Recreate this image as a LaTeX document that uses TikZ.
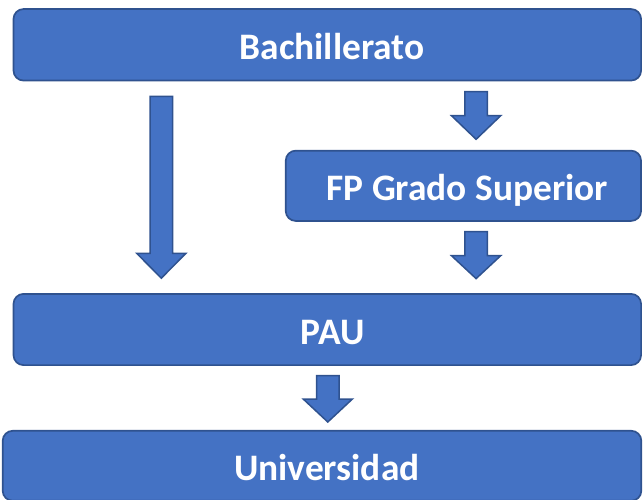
\documentclass[tikz,border=0pt]{standalone}
\usepackage{fontspec}
\setmainfont{Carlito}
\definecolor{boxfill}{HTML}{4472C4}
\definecolor{boxline}{HTML}{2F528F}
\tikzset{
  stagebox/.style={draw=boxline, fill=boxfill, line width=1.7pt, rounded corners=10pt, inner sep=0pt},
  stagetext/.style={text=white, font=\fontsize{37.4}{44}\selectfont\bfseries, anchor=base, inner sep=0pt},
  blockarrow/.style={draw=boxline, fill=boxfill, line width=1.5pt, line join=miter},
}
% block arrow: #1 name, #2 x centre, #3 y top, #4 y head start, #5 y tip
\newcommand{\downblock}[5]{%
  \coordinate (#1-top) at (#2,#3);
  \coordinate (#1-tip) at (#2,#5);
  \draw[blockarrow] (#2-11.3,#3) -- (#2+11.3,#3) -- (#2+11.3,#4) -- (#2+24.6,#4)
     -- (#1-tip) -- (#2-24.6,#4) -- (#2-11.3,#4) -- cycle;}
\begin{document}
\begin{tikzpicture}[x=1pt,y=-1pt]
\useasboundingbox (0,0) rectangle (643,499);
% boxes
\node[stagebox, minimum width=627.6pt, minimum height=71.5pt] (bach) at (327.3,44.8) {};
\node[stagebox, minimum width=355.3pt, minimum height=70.3pt] (fp) at (463.4,185.8) {};
\node[stagebox, minimum width=627.6pt, minimum height=71.2pt] (pau) at (327.3,329.5) {};
\node[stagebox, minimum width=638.6pt, minimum height=70pt] (uni) at (322.0,465.8) {};
% texts
\node[stagetext] (tbach) at (332.0,59.3) {Bachillerato};
\node[stagetext] (tfp) at (467.3,200.0) {FP Grado Superior};
\node[stagetext] (tpau) at (332.8,344.3) {PAU};
\node[stagetext] (tuni) at (326.8,480.0) {Universidad};
% arrows
\downblock{a1}{161.3}{96.4}{253.3}{278.2}
\downblock{a2}{476.1}{91.7}{115.7}{139.3}
\downblock{a3}{476.1}{231.7}{255.7}{278.6}
\downblock{a4}{327.8}{375.7}{399.0}{422.0}
\end{tikzpicture}
\end{document}
